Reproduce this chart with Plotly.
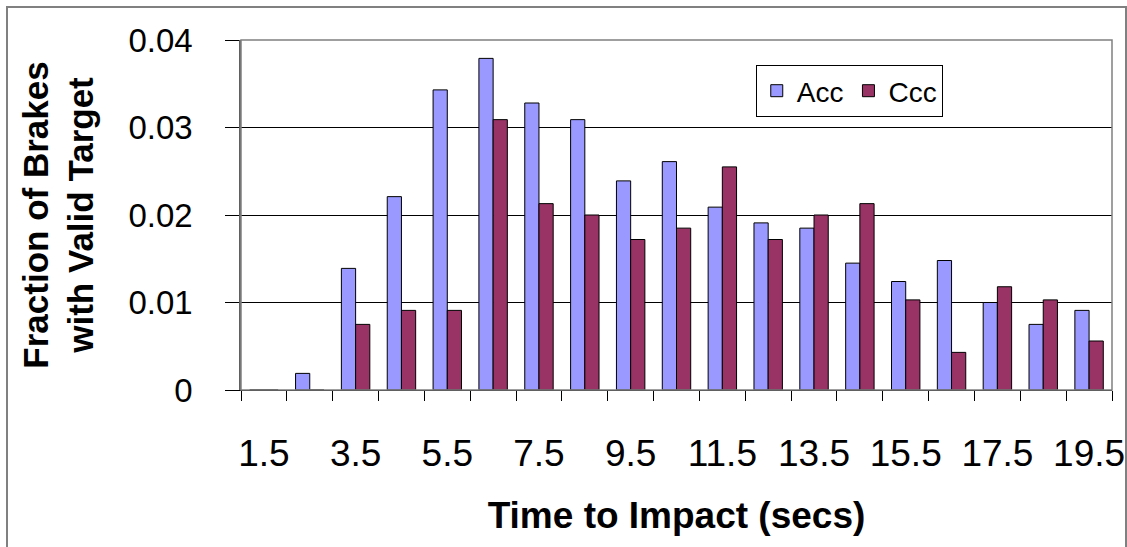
import plotly.graph_objects as go

time_bins = [1.5, 2.5, 3.5, 4.5, 5.5, 6.5, 7.5, 8.5, 9.5, 10.5,
             11.5, 12.5, 13.5, 14.5, 15.5, 16.5, 17.5, 18.5, 19.5]
acc = [0.0, 0.0019, 0.0139, 0.0221, 0.0343, 0.0379, 0.0328, 0.0309, 0.0239, 0.0261,
       0.0209, 0.0191, 0.0185, 0.0145, 0.0124, 0.0148, 0.0100, 0.0075, 0.0091]
ccc = [0.0, 0.0, 0.0075, 0.0091, 0.0091, 0.0309, 0.0213, 0.0200, 0.0172, 0.0185,
       0.0255, 0.0172, 0.0200, 0.0213, 0.0103, 0.0043, 0.0118, 0.0103, 0.0056]
x_tick_labels = ["1.5", "3.5", "5.5", "7.5", "9.5", "11.5", "13.5", "15.5", "17.5", "19.5"]
x_tick_vals = [float(t) for t in x_tick_labels]
y_tick_labels = ["0", "0.01", "0.02", "0.03", "0.04"]
y_tick_vals = [float(t) for t in y_tick_labels]
boundaries = list(range(1, 21))

FONT = "Arial, Liberation Sans, sans-serif"

fig = go.Figure()
fig.add_trace(go.Bar(x=time_bins, y=acc, name="Acc",
                     marker=dict(color="#9999FF", line=dict(color="#000000", width=1))))
fig.add_trace(go.Bar(x=time_bins, y=ccc, name="Ccc",
                     marker=dict(color="#993366", line=dict(color="#000000", width=1))))

fig.update_layout(
    width=1127, height=547,
    margin=dict(l=241, r=15, t=40, b=157, pad=0),
    paper_bgcolor="white", plot_bgcolor="white",
    barmode="group", bargap=0.38, bargroupgap=0.0,
    font=dict(family=FONT, color="black"),
    showlegend=True,
    legend=dict(orientation="h", x=0.591, y=0.9286, xanchor="left", yanchor="top",
                bordercolor="black", borderwidth=1, bgcolor="white",
                font=dict(size=28, family=FONT), itemwidth=30),
)

fig.update_xaxes(
    automargin=False,
    range=[1, 20], tickmode="array", tickvals=x_tick_vals, ticktext=x_tick_labels,
    ticks="", tickfont=dict(size=37, family=FONT), ticklabelstandoff=31,
    showgrid=False, zeroline=False, showline=True, linecolor="black", linewidth=1,
    minor=dict(tickmode="array", tickvals=boundaries, ticks="outside", ticklen=10,
               tickcolor="black", tickwidth=1, showgrid=False),
    title=dict(text="<b>Time to Impact (secs)</b>", font=dict(size=37, family=FONT), standoff=28),
)
fig.update_yaxes(
    automargin=False,
    range=[0, 0.04], tickmode="array", tickvals=y_tick_vals, ticktext=y_tick_labels,
    ticks="outside", ticklen=14, tickcolor="black", tickwidth=1,
    tickfont=dict(size=33, family=FONT), ticklabelstandoff=26,
    showgrid=True, gridcolor="black", gridwidth=1, zeroline=False,
    showline=True, linecolor="#606060", linewidth=1.5,
    title=dict(text="<b>Fraction of Brakes<br>with Valid Target</b>",
               font=dict(size=35, family=FONT), standoff=24),
)

# plot-area frame (top/right grey)
fig.add_shape(type="rect", xref="paper", yref="paper", x0=0, x1=1, y0=0, y1=1,
              line=dict(color="#808080", width=1.5), layer="above")
# outer chart border
fig.add_shape(type="rect", xref="paper", yref="paper",
              x0=(7 - 241) / 871, x1=(1126 - 241) / 871,
              y0=(390 - 560) / 350, y1=(390 - 7) / 350,
              line=dict(color="#808080", width=2), layer="below")

fig.write_html("out.html", config={"displayModeBar": False},
               post_script="document.body.style.margin='0';document.body.style.overflow='hidden';")
